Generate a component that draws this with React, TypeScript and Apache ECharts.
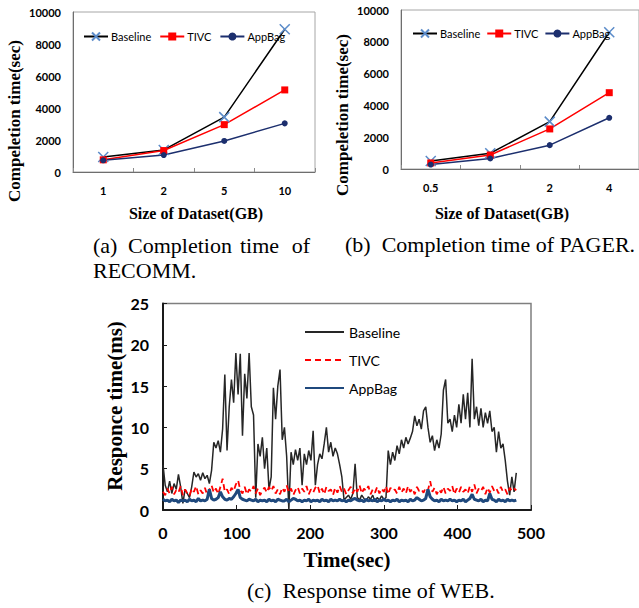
import React, { useEffect, useRef } from "react";
import * as echarts from "echarts";

// ---------- Data ----------
const SIZES_A = ["1", "2", "5", "10"];
const SIZES_B = ["0.5", "1", "2", "4"];

const A_BASELINE = [940, 1380, 3430, 8920];
const A_TIVC = [760, 1340, 2960, 5130];
const A_APPBAG = [730, 1060, 1940, 3040];

const B_BASELINE = [500, 990, 2980, 8600];
const B_TIVC = [380, 880, 2520, 4800];
const B_APPBAG = [280, 660, 1500, 3220];

// WEB response time (ms), one reading every WEB_STEP_SEC seconds from t = 0
const WEB_STEP_SEC = 3;
const WEB_BASELINE = [
  5.5, 3.0, 2.2, 3.5, 2.0, 3.2, 2.5, 4.3, 2.8, 0.8,
  2.5, 2.0, 1.5, 2.8, 4.6, 4.0, 4.4, 3.6, 4.5, 3.8,
  4.2, 3.2, 4.8, 8.2, 7.5, 8.4, 7.0, 9.8, 16.4, 7.2,
  12.5, 15.8, 13.0, 19.0, 14.0, 18.9, 9.0, 16.5, 13.5, 19.0,
  12.5, 11.5, 1.5, 8.0, 6.5, 8.8, 5.0, 7.5, 2.5, 4.0,
  14.8, 11.0, 15.0, 17.0, 8.5, 10.0, 6.5, 0.0, 7.0, 5.5,
  7.3, 6.0, 7.5, 3.0, 6.8, 5.5, 7.2, 6.0, 9.6, 3.0,
  5.5, 6.8, 6.2, 8.0, 10.0, 7.0, 8.2, 6.5, 7.5, 6.8,
  5.5, 4.0, 1.2, 1.5, 1.8, 1.3, 2.0, 5.6, 1.5, 1.2,
  1.8, 1.4, 1.1, 1.6, 1.3, 1.8, 1.0, 1.5, 1.2, 1.7,
  1.3, 1.5, 7.2, 5.5, 7.0, 6.0, 7.8, 6.8, 8.5, 7.5,
  8.8, 8.0, 8.7, 9.5, 11.4, 10.2, 11.0, 9.8, 12.0, 12.5,
  10.0, 8.2, 9.0, 7.2, 8.5, 7.5, 9.2, 14.5, 15.8, 10.5,
  11.0, 9.5, 11.5, 10.0, 12.8, 10.5, 14.0, 11.0, 14.2, 10.0,
  18.3, 11.0, 12.5, 10.2, 12.3, 10.0, 11.8, 10.5, 12.0, 9.5,
  10.0, 7.0, 9.5, 7.5, 8.0, 6.0, 3.5, 1.8, 4.0, 2.2,
  4.5,
];
const WEB_TIVC = [
  2.2, 1.8, 2.6, 2.0, 2.8, 1.9, 2.4, 2.1, 2.9, 1.8,
  2.5, 2.0, 1.7, 2.6, 2.2, 2.9, 1.9, 2.4, 2.0, 2.7,
  1.8, 2.5, 3.0, 2.1, 2.6, 1.9, 2.8, 3.8, 2.2, 2.5,
  1.9, 2.7, 2.3, 3.1, 3.6, 2.4, 2.0, 2.8, 1.9, 2.5,
  2.2, 2.9, 2.0, 2.6, 1.8, 2.4, 2.7, 2.1, 2.8, 2.3,
  2.9, 2.0, 2.5, 1.9, 2.7, 2.2, 3.0, 2.1, 2.6, 1.8,
  2.4, 2.8, 2.0, 2.6, 2.2, 2.9, 1.9, 2.5, 2.1, 2.7,
  3.0, 2.0, 2.6, 1.9, 2.8, 2.3, 2.5, 1.8, 2.7, 2.1,
  2.9, 2.2, 2.6, 1.9, 2.4, 2.8, 2.0, 2.7, 2.2, 3.0,
  2.0, 2.6, 2.3, 2.9, 1.9, 2.5, 2.1, 2.8, 2.0, 2.6,
  2.2, 2.9, 1.9, 2.7, 2.3, 2.5, 2.0, 2.8, 2.1, 2.6,
  2.0, 2.9, 2.2, 2.6, 1.9, 2.8, 2.3, 2.5, 2.1, 2.7,
  2.4, 3.5, 2.2, 2.7, 1.9, 2.5, 2.1, 2.8, 2.0, 2.6,
  2.3, 2.9, 1.9, 2.6, 2.1, 2.8, 2.2, 2.5, 2.0, 2.9,
  2.2, 3.1, 2.0, 2.6, 2.3, 2.8, 1.9, 2.7, 2.1, 2.9,
  2.3, 2.6, 2.0, 2.8, 2.2, 2.5, 1.9, 2.7, 2.3, 2.6,
  2.4,
];
const WEB_APPBAG = [
  1.3, 1.1, 1.2, 1.0, 1.3, 1.1, 1.2, 0.9, 1.2, 1.1,
  1.2, 1.0, 1.3, 1.1, 1.2, 1.0, 1.4, 1.1, 1.2, 1.1,
  1.3, 2.5, 1.4, 1.2, 1.3, 1.5, 2.2, 1.6, 1.3, 1.2,
  1.4, 1.3, 1.6, 2.0, 2.5, 1.5, 1.3, 1.2, 1.1, 1.3,
  1.2, 1.1, 1.3, 1.0, 1.2, 1.1, 1.2, 1.0, 1.3, 1.1,
  1.2, 1.0, 1.3, 1.2, 1.1, 1.1, 1.3, 1.0, 1.2, 1.4,
  1.3, 1.1, 1.2, 1.0, 1.2, 1.1, 1.3, 1.0, 1.2, 1.1,
  1.2, 1.0, 1.3, 1.1, 1.2, 1.0, 1.3, 1.1, 1.2, 1.1,
  1.3, 1.1, 1.2, 1.0, 1.2, 1.1, 1.3, 1.4, 1.2, 1.1,
  1.2, 1.0, 1.3, 1.1, 1.2, 1.1, 1.3, 1.0, 1.2, 1.1,
  1.3, 1.1, 1.2, 1.0, 1.2, 1.1, 1.3, 1.0, 1.2, 1.1,
  1.2, 1.0, 1.3, 1.1, 1.2, 1.5, 1.3, 1.1, 1.2, 1.4,
  2.5, 1.6, 1.3, 1.1, 1.2, 1.0, 1.3, 1.1, 1.2, 1.1,
  1.3, 1.1, 1.2, 1.0, 1.2, 1.1, 1.3, 1.0, 1.2, 1.4,
  1.9, 1.3, 1.2, 1.1, 1.3, 1.0, 1.2, 1.1, 2.0, 1.3,
  1.2, 1.0, 1.3, 1.1, 1.2, 1.0, 1.3, 1.1, 1.2, 1.1,
  1.2,
];

const SERIES_NAMES = ["Baseline", "TIVC", "AppBag"];

// ---------- Styles ----------
const SANS = "Lato";
const SERIF = "Liberation Serif";
const X_MARK = "path://M0,0L10,10M10,0L0,10";
const C_BASE = "#000000";
const C_X = "#5b8bc9";
const C_RED = "#ff0000";
const C_NAVY = "#1c2f6e";

const toPairs = (vals: number[]) => vals.map((v, i) => [i * WEB_STEP_SEC, v]);
const plain = (v: number) => String(v);

function completionAxes(gridIndex: number, cats: string[]) {
  const x = {
    type: "category",
    gridIndex,
    data: cats,
    boundaryGap: true,
    axisLine: { lineStyle: { color: "#6e6e6e", width: 1 } },
    axisTick: { show: true, inside: true, length: 4, lineStyle: { color: "#8a8a8a" } },
    axisLabel: { fontFamily: SANS, fontWeight: "bold", fontSize: 11, color: "#000", margin: 13 },
    splitLine: { show: false },
  };
  const y = {
    type: "value",
    gridIndex,
    min: 0,
    max: 10000,
    interval: 2000,
    axisLine: { show: true, lineStyle: { color: "#6e6e6e", width: 1 } },
    axisTick: { show: false },
    axisLabel: {
      fontFamily: SANS,
      fontWeight: "bold",
      fontSize: 11,
      color: "#000",
      margin: 12,
      formatter: plain,
    },
    splitLine: { show: false },
  };
  return { x, y };
}

function completionSeries(idx: number, base: number[], tivc: number[], app: number[]) {
  return [
    {
      type: "line",
      name: "Baseline",
      xAxisIndex: idx,
      yAxisIndex: idx,
      data: base,
      symbol: X_MARK,
      symbolSize: 10,
      lineStyle: { color: C_BASE, width: 1.5 },
      itemStyle: { color: C_X, borderColor: C_X, borderWidth: 1.5 },
    },
    {
      type: "line",
      name: "TIVC",
      xAxisIndex: idx,
      yAxisIndex: idx,
      data: tivc,
      symbol: "rect",
      symbolSize: 7,
      lineStyle: { color: C_RED, width: 1.5 },
      itemStyle: { color: C_RED },
    },
    {
      type: "line",
      name: "AppBag",
      xAxisIndex: idx,
      yAxisIndex: idx,
      data: app,
      symbol: "circle",
      symbolSize: 6,
      lineStyle: { color: C_NAVY, width: 1.5 },
      itemStyle: { color: C_NAVY },
    },
  ];
}

function txt(text: string, x: number, y: number, font: string, align = "center", rotation = 0) {
  return {
    type: "text",
    x,
    y,
    rotation,
    silent: true,
    style: { text, font, fill: "#000", align, verticalAlign: "middle" },
  };
}

export default function App() {
  const ref = useRef<HTMLDivElement>(null);

  useEffect(() => {
    if (!ref.current) return;
    const chart = echarts.init(ref.current, undefined, { renderer: "svg" });
    const a = completionAxes(0, SIZES_A);
    const b = completionAxes(1, SIZES_B);
    const capFont = `22px "${SERIF}"`;
    const nameFont = `bold 17px "${SERIF}"`;
    const xNameFont = `bold 16px "${SERIF}"`;
    const cNameFont = `bold 21px "${SERIF}"`;

    const option: any = {
      animation: false,
      backgroundColor: "#ffffff",
      grid: [
        { left: 73, top: 12, width: 242, height: 160, show: true, borderColor: "#a6a6a6", borderWidth: 1 },
        { left: 401, top: 10, width: 238, height: 159, show: true, borderColor: "#a6a6a6", borderWidth: 1 },
        { left: 163, top: 303.5, width: 368, height: 206.5, show: true, borderColor: "#7f7f7f", borderWidth: 1.5 },
      ],
      xAxis: [
        a.x,
        b.x,
        {
          type: "value",
          gridIndex: 2,
          min: 0,
          max: 500,
          interval: 100,
          axisLine: { lineStyle: { color: "#1a1a1a", width: 2 } },
          axisTick: { show: true, inside: true, length: 5, lineStyle: { color: "#1a1a1a" } },
          axisLabel: { fontFamily: SANS, fontWeight: "bold", fontSize: 16, color: "#000", margin: 14 },
          splitLine: { show: false },
        },
      ],
      yAxis: [
        a.y,
        b.y,
        {
          type: "value",
          gridIndex: 2,
          min: 0,
          max: 25,
          interval: 5,
          axisLine: { show: true, lineStyle: { color: "#1a1a1a", width: 2 } },
          axisTick: { show: true, inside: true, length: 4, lineStyle: { color: "#1a1a1a" } },
          axisLabel: { fontFamily: SANS, fontWeight: "bold", fontSize: 16, color: "#000", margin: 14 },
          splitLine: { show: false },
        },
      ],
      legend: [
        {
          left: 83,
          top: 31,
          padding: 0,
          itemWidth: 24,
          itemHeight: 10,
          itemGap: 8,
          data: SERIES_NAMES,
          selectedMode: false,
          textStyle: { fontFamily: SANS, fontSize: 11, color: "#000", padding: [0, 0, 0, -2] },
        },
        {
          left: 412,
          top: 28,
          padding: 0,
          itemWidth: 24,
          itemHeight: 10,
          itemGap: 6,
          data: SERIES_NAMES,
          selectedMode: false,
          textStyle: { fontFamily: SANS, fontSize: 11, color: "#000", padding: [0, 0, 0, -2] },
        },
        {
          left: 304,
          top: 325,
          padding: 0,
          orient: "vertical",
          itemWidth: 39,
          itemHeight: 14,
          itemGap: 14,
          data: SERIES_NAMES.map((n) => n + "|c"),
          selectedMode: false,
          itemStyle: { opacity: 0 },
          formatter: (n: string) => n.split("|")[0],
          textStyle: { fontFamily: SANS, fontSize: 14, color: "#000" },
        },
      ],
      series: [
        ...completionSeries(0, A_BASELINE, A_TIVC, A_APPBAG),
        ...completionSeries(1, B_BASELINE, B_TIVC, B_APPBAG),
        {
          type: "line",
          name: "Baseline|c",
          xAxisIndex: 2,
          yAxisIndex: 2,
          data: toPairs(WEB_BASELINE),
          symbol: "none",
          lineStyle: { color: "#262626", width: 1.5 },
          itemStyle: { color: "#262626" },
        },
        {
          type: "line",
          name: "TIVC|c",
          xAxisIndex: 2,
          yAxisIndex: 2,
          data: toPairs(WEB_TIVC),
          symbol: "none",
          lineStyle: { color: C_RED, width: 1.8, type: [6, 4] },
          itemStyle: { color: C_RED },
        },
        {
          type: "line",
          name: "AppBag|c",
          xAxisIndex: 2,
          yAxisIndex: 2,
          data: toPairs(WEB_APPBAG),
          symbol: "none",
          lineStyle: { color: "#1f497d", width: 3 },
          itemStyle: { color: "#1f497d" },
        },
      ],
      graphic: [
        // axis names
        txt("Compeletion time(sec)", 14, 121, nameFont, "center", Math.PI / 2),
        txt("Compeletion time(sec)", 342, 115, nameFont, "center", Math.PI / 2),
        txt("Size of Dataset(GB)", 196, 213, xNameFont),
        txt("Size of Dataset(GB)", 502, 213, xNameFont),
        txt("Responce time(ms)", 115, 406, cNameFont, "center", Math.PI / 2),
        txt("Time(sec)", 347, 560, cNameFont),
        // captions
        txt("(a)", 93, 245, capFont, "left"),
        txt("Completion", 128, 245, capFont, "left"),
        txt("time", 240, 245, capFont, "left"),
        txt("of", 310, 245, capFont, "right"),
        txt("RECOMM.", 93, 270, capFont, "left"),
        txt("(b)\u2002Completion time of PAGER.", 345, 244, capFont, "left"),
        txt("(c)\u2002Response time of WEB.", 247, 590, capFont, "left"),
      ],
    };
    chart.setOption(option);
    return () => chart.dispose();
  }, []);

  return (
    <div
      ref={ref}
      style={{ position: "absolute", left: 0, top: 0, width: 639, height: 608, background: "#fff" }}
    />
  );
}
